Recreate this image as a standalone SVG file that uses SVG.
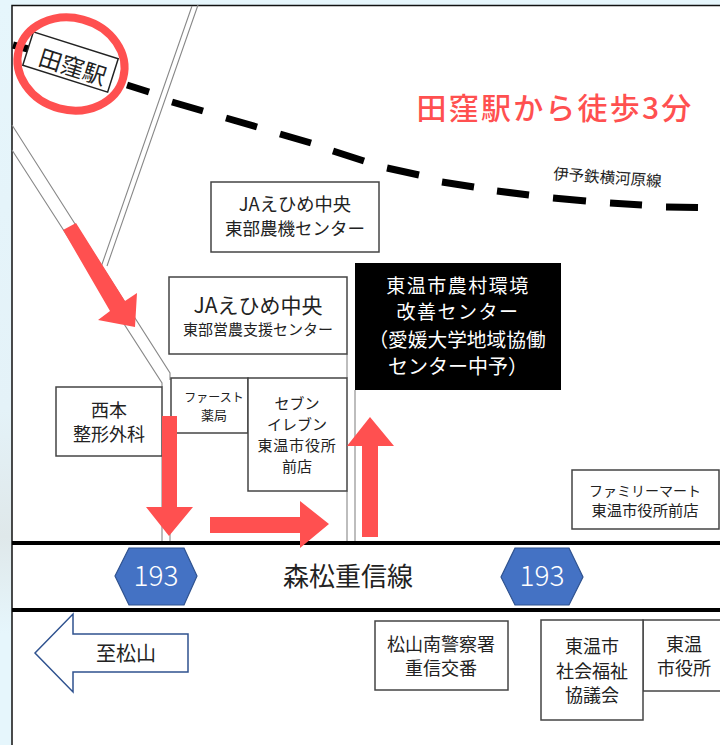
<svg xmlns="http://www.w3.org/2000/svg" width="720" height="745" viewBox="0 0 720 745">
<style>
text{font-family:"Noto Sans CJK JP","Noto Sans",sans-serif;fill:#222;text-anchor:middle}
.b{fill:#fff;stroke:#444;stroke-width:1.5}
.r{fill:none;stroke:#888;stroke-width:1.1}
.d{fill:none;stroke:#000;stroke-width:7}
.a{fill:#ff5050}
.h{fill:#4472c4;stroke:#2f528f;stroke-width:1.2}
text.hw{fill:#fff;font-size:28px;font-weight:300}
text.w{fill:#fff;font-size:20px}
text.w2{fill:#fff;font-size:19px;letter-spacing:1.500px}
.s15{font-size:15px}.s158{font-size:15px}.s175{font-size:17.500px}.s18{font-size:18px}
</style>
<defs>
<linearGradient id="bg" x1="0" y1="0" x2="0" y2="1">
<stop offset="0" stop-color="#e6f6fc"/><stop offset=".55" stop-color="#e4f2f8"/><stop offset=".72" stop-color="#dfe8ea"/><stop offset=".85" stop-color="#e6f6fc"/><stop offset="1" stop-color="#e6f6fc"/>
</linearGradient>
</defs>
<rect width="720" height="745" fill="url(#bg)"/>
<rect x="12" y="5" width="708" height="740" fill="#fff"/>
<path d="M12 745V5.500H720" fill="none" stroke="#111" stroke-width="1.500"/>
<g id="roads">
<path class="r" d="M192 6L100 270M198 5L107 266"/>
<path class="r" d="M12 125L170 373V380M12 150L162 383V387M162 456V541M170 433V541M347 354V378M347 491V541M355 390V541"/>
</g>
<g id="railway">
<path class="d" d="M13 45L28 49M127 85L149 92M172 102L203 111M226 118L257 127M280 134L311 143M333 151L364 161M387 168L419 175M442 182L474 187M497 191L529 195M553 198L586 201M610 203L642 205M666 207L698 207.500"/>
<text font-size="15.500" transform="translate(607 183) rotate(4)">伊予鉄横河原線</text>
</g>
<g id="street">
<path d="M12 543H720M12 610H720" fill="none" stroke="#000" stroke-width="4"/>
<text x="348" y="586" font-size="26">森松重信線</text>
</g>
<g id="tawara-station">
<rect class="b" x="26" y="44.500" width="89" height="35" transform="rotate(17.600 70.500 62)" style="stroke:#222"/>
<text font-size="23" transform="translate(70 75) rotate(17.600)">田窪駅</text>
<ellipse cx="71" cy="64" rx="54" ry="46" transform="rotate(15 71 64)" fill="none" stroke="#ff5050" stroke-width="8"/>
</g>
<g id="title"><text x="555" y="119" font-size="30" font-weight="500" letter-spacing="2.200" style="fill:#ff5050">田窪駅から徒歩3分</text></g>
<g id="ja-machinery">
<rect class="b" x="211" y="182" width="168" height="70"/>
<text x="295" y="211" font-size="18.300">JAえひめ中央</text>
<text x="295" y="235" class="s175">東部農機センター</text>
</g>
<g id="ja-support">
<rect class="b" x="169" y="277" width="178" height="77"/>
<text x="258" y="313" font-size="21">JAえひめ中央</text>
<text x="258" y="335" class="s15">東部営農支援センター</text>
</g>
<g id="center">
<rect x="355" y="263" width="206" height="127" fill="#000"/>
<text x="458" y="292.500" class="w2">東温市農村環境</text>
<text x="458" y="319" class="w2">改善センター</text>
<text x="457" y="347" font-size="19.700" style="fill:#fff">（愛媛大学地域協働</text>
<text x="458" y="374" class="w">センター中予）</text>
</g>
<g id="nishimoto">
<rect class="b" x="56" y="387" width="106" height="69"/>
<text x="109" y="417" class="s18">西本</text>
<text x="109" y="441" class="s18">整形外科</text>
</g>
<g id="first">
<rect class="b" x="171" y="378" width="77" height="55"/>
<text x="214" y="402" font-size="12">ファースト</text>
<text x="214" y="420" font-size="13">薬局</text>
</g>
<g id="seven">
<rect class="b" x="248" y="378" width="99" height="113"/>
<text x="297" y="409" class="s158">セブン</text>
<text x="297" y="430" class="s158">イレブン</text>
<text x="297" y="451" class="s158" letter-spacing=".8">東温市役所</text>
<text x="297" y="472" class="s158">前店</text>
</g>
<g id="family">
<rect class="b" x="572" y="470" width="147" height="59"/>
<text x="645" y="496" font-size="14">ファミリーマート</text>
<text x="645" y="516" font-size="15.300">東温市役所前店</text>
</g>
<g id="route-193-a">
<path class="h" d="M115 576L129 548H184L197 576L184 605H129Z"/>
<text x="156" y="586" class="hw">193</text>
</g>
<g id="route-193-b">
<path class="h" d="M501 577L515 548H569L583 577L569 605H515Z"/>
<text x="542" y="586" class="hw">193</text>
</g>
<g id="to-matsuyama">
<path d="M35 653L73 614V634H188V672H73V692Z" fill="#fff" stroke="#2f528f" stroke-width="1.500"/>
<text x="126" y="661" font-size="20">至松山</text>
</g>
<g id="police">
<rect class="b" x="375" y="621" width="133" height="69"/>
<text x="441" y="651" class="s18">松山南警察署</text>
<text x="441" y="675" class="s18">重信交番</text>
</g>
<g id="cityhall">
<rect class="b" x="643" y="620" width="80" height="71"/>
<text x="684" y="651" class="s18">東温</text>
<text x="684" y="675" class="s18">市役所</text>
</g>
<g id="welfare">
<rect class="b" x="541" y="620" width="102" height="100"/>
<text x="592" y="653" class="s18">東温市</text>
<text x="592" y="678" class="s18">社会福祉</text>
<text x="592" y="702" class="s18">協議会</text>
</g>
<g id="connectors">
<path class="a" d="M63 230L76 223L125 301L137 293L135 327L98 320L110 311Z"/>
<path class="a" d="M162 416H177V507H193L169 536L146 507H162Z"/>
<path class="a" d="M210 517H300V501L329 524L300 548V533H210Z"/>
<path class="a" d="M362 537V446H347L370 417L394 446H378V537Z"/>
</g>
</svg>
